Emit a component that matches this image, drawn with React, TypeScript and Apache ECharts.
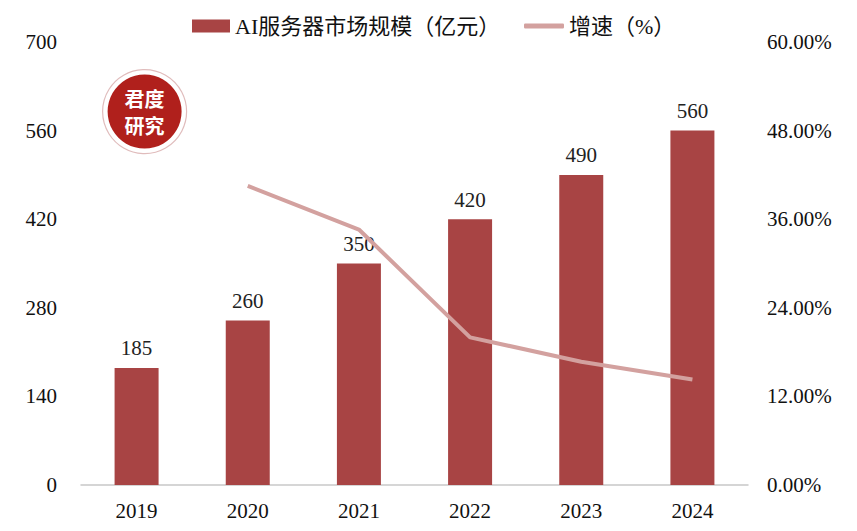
import React, { useEffect, useRef } from "react";
import * as echarts from "echarts";

const categories = ["2019", "2020", "2021", "2022", "2023", "2024"];
const marketSize = [185, 260, 350, 420, 490, 560];
const growth: (number | null)[] = [null, 40.5, 34.6, 20.0, 16.7, 14.3];
const barName = "AI服务器市场规模（亿元）";
const lineName = "增速（%）";

const FONT = "'Liberation Serif', 'Times New Roman', 'Noto Sans CJK SC', serif";

export default function App() {
  const ref = useRef<HTMLDivElement>(null);
  useEffect(() => {
    if (!ref.current) return;
    const chart = echarts.init(ref.current, null, { renderer: "svg" });
    chart.setOption({
      animation: false,
      backgroundColor: "#ffffff",
      textStyle: { fontFamily: FONT },
      legend: [
        {
          top: 10,
          left: 187,
          itemWidth: 38,
          itemHeight: 13,
          itemGap: 6,
          textStyle: { fontSize: 22, color: "#111", fontFamily: FONT },
          data: [{ name: barName, icon: "rect" }],
        },
        {
          top: 10,
          left: 519,
          itemWidth: 40,
          itemHeight: 5,
          itemGap: 4,
          textStyle: { fontSize: 22, color: "#111", fontFamily: FONT },
          data: [{ name: lineName, icon: "roundRect" }],
        },
      ],
      grid: { left: 81, right: 109, top: 42, bottom: 46, containLabel: false },
      xAxis: {
        type: "category",
        data: categories,
        axisLine: { lineStyle: { color: "#c8c8c8", width: 1.5 } },
        axisTick: { show: false },
        axisLabel: { fontSize: 21, color: "#111", margin: 15, fontFamily: FONT },
      },
      yAxis: [
        {
          type: "value",
          min: 0,
          max: 700,
          interval: 140,
          axisLine: { show: false },
          axisTick: { show: false },
          splitLine: { show: false },
          axisLabel: { fontSize: 21, color: "#111", margin: 24, fontFamily: FONT },
        },
        {
          type: "value",
          min: 0,
          max: 60,
          interval: 12,
          axisLine: { show: false },
          axisTick: { show: false },
          splitLine: { show: false },
          axisLabel: {
            fontSize: 21,
            color: "#111",
            margin: 19,
            fontFamily: FONT,
            formatter: (v: number) => v.toFixed(2) + "%",
          },
        },
      ],
      series: [
        {
          name: barName,
          type: "bar",
          data: marketSize,
          barWidth: 44,
          itemStyle: { color: "#A84444" },
          label: {
            show: true,
            position: "top",
            distance: 9,
            fontSize: 21,
            color: "#222",
            fontFamily: FONT,
          },
        },
        {
          name: lineName,
          type: "line",
          yAxisIndex: 1,
          data: growth,
          symbol: "none",
          lineStyle: { color: "#D3A19F", width: 4 },
          itemStyle: { color: "#D3A19F" },
        },
      ],
      graphic: [
        {
          type: "group",
          left: 102,
          top: 69,
          children: [
            {
              type: "circle",
              shape: { cx: 43, cy: 43, r: 42 },
              style: { fill: "#fff", stroke: "#e0bcbc", lineWidth: 1.2 },
            },
            {
              type: "circle",
              shape: { cx: 43, cy: 43, r: 37 },
              style: { fill: "#B0201C" },
            },
            {
              type: "text",
              x: 43,
              y: 30,
              style: {
                text: "君度",
                fill: "#fff",
                fontSize: 20,
                lineHeight: 24,
                fontWeight: "bold",
                fontFamily: "'Noto Sans CJK SC', sans-serif",
                align: "center",
                verticalAlign: "middle",
              },
            },
            {
              type: "text",
              x: 43,
              y: 57,
              style: {
                text: "研究",
                fill: "#fff",
                fontSize: 20,
                lineHeight: 24,
                fontWeight: "bold",
                fontFamily: "'Noto Sans CJK SC', sans-serif",
                align: "center",
                verticalAlign: "middle",
              },
            },
          ],
        },
      ],
    });
    return () => chart.dispose();
  }, []);
  return <div ref={ref} style={{ width: 857, height: 531, margin: -8 }} />;
}
